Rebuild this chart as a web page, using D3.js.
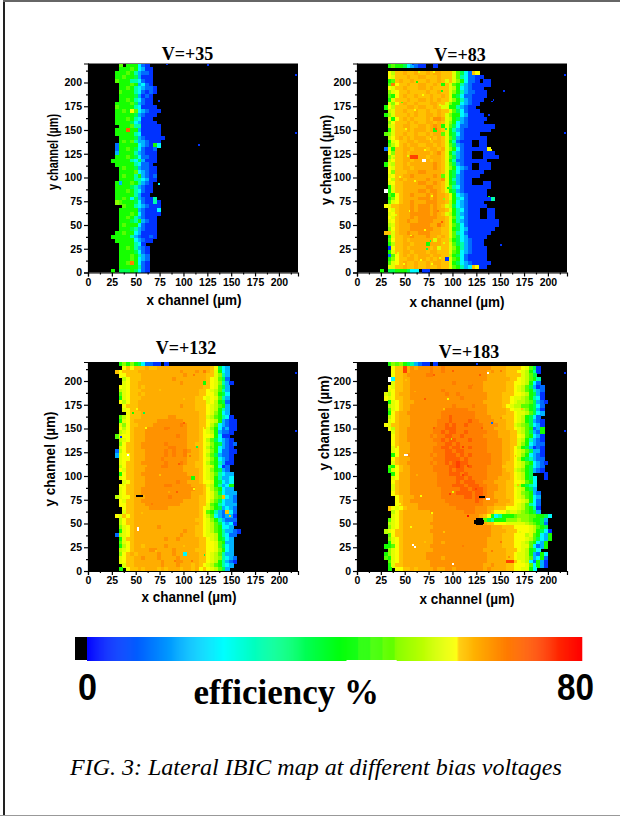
<!DOCTYPE html>
<html>
<head>
<meta charset="utf-8">
<script src="https://cdn.jsdelivr.net/npm/d3@7"></script>
<style>
  html, body { margin: 0; padding: 0; background: #fff; }
  svg { display: block; }
  .tick-label { font: bold 10.5px "Liberation Sans", Arial, sans-serif; }
  .axis-label { font: bold 14px "Liberation Sans", Arial, sans-serif; }
  .title { font: bold 18px "Liberation Serif", "Times New Roman", serif; text-anchor: middle; }
</style>
</head>
<body>
<svg id="d" width="620" height="816"></svg>
<script>
  // one letter per 4x4 um cell, rows run from y=216 down to y=0, first letter is x=24
  // '.' no signal, 'W' saturated (white), a..s low to high efficiency
  const levelLetters = 'abcdefghijklmnopqrs'.split('');
  const levelValues = [6, 11, 17, 23, 30, 37, 44, 48, 51, 55, 58, 60, 61.5, 63.5, 66, 68, 71, 74, 79];

  const rows35 = [
    '..h.g ggdba', '..ggg hgdca a', '.gggh gecbb a', '.gghg gfcaa a', '.hggg eedba a',
    '..ggg hgcdb a', '..ggh gedcb ba', '..hgg gedba ba', '..ggg gfcab a', '..ggh gedba a',
    '.gggg hfcba a', '.hggg gedaa aa', '.gghg lhdcb aaa', '.gggg gfcba aa', '.gggh gedaa a',
    '.gggg fdcaa aa', '..ggg heeaa aaa', '.gggq ggcaa aaa', '.gggg gedaa aaa', '..ggg gfcba aaaa',
    '..ghg heccb aaa', '.bggg ggdcb agd', '.bggh gfdba ab', '.cggg gecba aa', '.gggh gfdbb aa',
    'ggggg edfca aa', '.gggg gedbb a', '..ghg gfcbb aa', '..ggg ghdcb aa', '..ghg gegcb ab',
    '..ggg geedc aa', '.gcgg hgecb a', '.gggg fecba a', '.gggh gedba a', '.gggg gecaa',
    '.gghg dfcba ae', '.ihgg gfdba aea', '...hg gedcb aaa', '..ggg ggcba aad', '..ggg hgdba aaa',
    '..ggh gecba aa', '..ggg fegcb aa', '..ghg ggdba aa', '..ggg fecba aa', '.gghg gdcaa aa',
    'ggggg ecbaa ba', '.gggg gdcba a', '..ggg geda', '..ggh gecba', '..ggg gfdba',
    '..ggg hgecb', '..ggg hgdcb', '..ggh pgdba', '..ggg ggeba', 'g.fff gfdba'
  ];

  const rows83 = [
    '..ghg gfdcb aa..a', '', '..ljm mnmmn mmnmnn mmmkh fdbml', '..lkm mmnmm nnmmmn mmmkh edbba a....', '..ghm nmmnm mmnmmn mkmki gdbba .aa',
    '..hpl mmnmm nnmmnm gmkhg ecbaa aaa', '..lkm mnmmm nnmnmm mmkjg dcbaa a', '..ikl mmnmm mmnmmn mmkig ecbba aa', '..hgl mnmmn mmmnmm nmkgf dbbaa aa', '..gkm mmnmm nnmnmn mmkig ecbaa a',
    '..kil mnmmn mmmnnm mkigg dcbaa', '.gljm mmnnm nnmmnm kkgge cbaa', '..jkm mnmmn mmnmmn mmkhf dbaaa', '.gikm mmnmn mmnnmn mkigg dcaaa a', '..kgl mnmnm mmnmoo nkjgf cbaaa aa',
    '..ilm mmnmn mmnnmn mkigd cbaaa a', '..jkm mnnmm nnmnon gkhfd bbaaa aaaa', '..gkm mmnmn nnmngn mkgec baaaa aaa', '.hikm mnmmn mmnmnn hkgfd baaaa', '..jlm nmnmn nnmnmn mkhfc baaaa aa',
    '..gkl mmnnm nnnmnn mkgeb aaa.. aa', '..hjl mnmnn mmnnmn mkhfc baa.. aa', '.bkgm mnnmn nnmnnm nkigd baaaa aal', '..lim mnmnn nnnmno mkgec baa.. .aaa', '..ikm mnnrr nnmnnn mkhfc baa.. .aaaa',
    '..jlm mnnmn nWnmnn mkgeb baaaa aa', '.gkjm mnmnn nnnnon mkhfc baa.. aaa', '..lkm mnnmn nnnnon mkigd cba.. aaa', '..lim mmnnn oonnnn mkgfd baaaa a', '..klm mnnon nnnnon hkgfc baaaa',
    '..ljm nmnnn nnonnn okgec baa', '..klm mnnnn oonnon mkgfc baa.. .aa', '..gkm mnnnn nnoonn mkhed baaaa aaa', '.Wgkm mnnnn oonoon mkgfc baaaa aa', '..hgl mnnon nnonon nmkgd cbaaa aa',
    '..gil mnnnn ooonon nmkge dbaaa aaae', '..hkl mnnon nnooon nmjgd cbaaa a', '.lkmm nnnon ooonon mkjfd cbaaa aa', '..lkm nnnon ooonon nmkge dbaaa ..aa', '..klm nnnoo ooonon mkjge cbaaa ..aa',
    '..lkm nnnon ooooon nmkhe dbaaa ..aa', '..klm nnonn oooonn nmkge cbaaa aaaaa', '..jkm nnnoo ooonnp nmkhf dbaaa aaaaa', '..ilm nnnoo oooonn mmkgf dcaaa aaaa', '.mmkm nnonn ooonnn mmkhe dbaaa aaa',
    '..gkm mnnon nnonnm nmkhf dcaaa aa', '..hlm mnmnn nnnnkn mmjgf dcbaa a', '..gjm mnnmn nngnnn mmkhf ecbaa a', '..alm mnmnn nnnmnk mmkig ecbaa aa', '..gkm mnnmn nnmnnm mmkhg dcbaa aa',
    '..bhl mnmnm nnnmnn mmjgf dbaaa aa', '..gil mmnnm nnmnmn makhg dbaaa aa', '..hkl mnmmn mmnmnn mmkgf dcbaa aaa', '..kkm mnmmn mmnmmn mmkhg ecdml aa', 'g.ffg ggfdd .aa'
  ];

  const rows132 = [
    '..gig igfdb baa.a', '...lm lmmmn mmnnnn nnnnn nnnnn mlfdc', '.mlmm mmnnn nnnnnn nnonn nonpn mkgdc', '..llm mmmnn nnnnnn nnnon nnnnm mkiec', '...jl mmmnn nnnnnn onnnn nnnnm lkhfb',
    '...kl mmnnn nnnnnn nnonn nnngm lkiec a', '..lkl mmnmn nnnnnn nnnnn nnnmm lkhfc', '..jkl mmmnn nnnnnn nnnnn nnmml kjhec', '..hkl mmnmn nnnnnn nnnnn nnmml ljgfd', '..gkl mmmnn nnnnnn nnnnn nmmlk lkhec',
    '..ljl mmnnn nnnnnn nnnnn nmmmk ljgfb', '...lm mmnnn nnnnnn nnonn nmmml kjhgc', '...kl mmnnn nnnnnn nnnnn nmmml kjgec', '....l mmmnn nnnnnn nnnnn nnmml kigdc', '..hjl mmmnn nnnnno onnnn nnmmk jhged a',
    '..gkl mnnnn nnoooo ooonn nnmml kjgcb aa', '..kil mmnnn nooooo oopon nnmml jhdcb aa', '..ljl mnnno oooopo oooon nnmlk igdbc aa', '..jkl mnnno oooooo oooon nnmlk jgcbb a', '.hkll mnnno oooooo opoon nnmll kgdaa',
    '..jkl mnnno oooooo oooon nnmlj hfdcb a', '..ilm mnnoo oooopo oooon nmmlk igfcb ab', '..klm mnnoo ooooop pooon nnmlj hgdcb a', '.bjlm mnnno oooopo poopo nnmlk igdbb aa', '.ckll mnnno oooopo poopn nnmlj hfcbb a',
    '..kll mnnno ooopoo oooon nnmlk igdcb a', '..klm mnnoo oooopo oopon nmmlj hgeca a', '..jlm mnnno oooppo ooonn nmmlk jgdab', '..lkm mnnno oooooo ooonn nnmlk igfcb', '..glm mnnoo oooooo oooon nnmlk jhedc c',
    '..klm mnnno oooooo ooooo gnmlk jgecc d', '...kl mnnno oooooo opoon nnmll kgfdc d', '..llm mnnno oooopp ooooo nnnmk jgecd g', '..klm mnnoo oooooo ooooo onnml jhgdc c', '..klm mnnoo oooooo ooooo nnnml kifdc cc',
    '.jkll mnnno ooooop ooooo nnmml kihmd cb', '..lkm mnnoo oooooo ooonn nnmml jhfdc cb', '..llm mnnno oooooo oonnn nnmmk hgedc cc', '...lm mnnnn ooooon nnnnn nnmlk igfcd cb', '...km mnnnn nnnnnn nnnnn nnmlh gecbm db',
    '.lkml mnnnn nnnnnn nnnnn nnmlj hdcbc ca', '..jlm mnnnn nnnnnn nnnnn nmmlk igecb bb', '..jlm mnnnn nnnnnn nnnnn nnmlk jhfdc da', '..ikl mnnnn nnonnn nnnnn nmmlk jhgdd c', '..gkl mnnnn nnnnnn nnnon nmmlk jhgec cba',
    '.bjkl mnnnn nnnnnn nnonn nmmlk kjged bb', '..gkm mnnnn nnnnon nonnn nnmml kjgfd c', '..hkl mnnnn nnnnnn nnnnn nnmml lkhgc c', '..gjl mnnmn nnnnon nnnnn nnmml lkhfd c', '..jkl mnnnn oonnnn onnnn nmmml lkigd c',
    '..ilm nmnnn nnonnn onndn nnmml kjhec c', '..klm mnnon nnonnn nonnn nnmml kjied cb', '..klm mnnnn nnnonn noonn nnmml kjgec ba', '...km mnnnn nnnonn nonnn mnmlk jhged c', '..g.l mmnmn nnmnmn nnmnn mnlml kjhfc'
  ];

  const rows183 = [
    '..gih igfec baa.a', '...lm mrnon ooopoo poooo ooooo ooonn nnmmm mlkhf a', '...lm mrnoo ooopoo poooo ooooo oonon nnmmm lkjge a', '...lm mnooo ooppoo ooooo ooooo oonnn nnmmm mkjhf', '..Wdm mnnoo oooooo ooooo ooooo oonnn nnnmm lkjhg e',
    '...km mnnoo oooooo ooopo ooooo onnnn nnmml lkjgd b', '..lkm mnnoo oooooo ooooo oopoo onnnn nnmml kjhfc ab', '..klm mnnoo oooooo poooo ooooo onnnn nnmml kjhge cb', '.kjlm nnnoo oooooo opoop ooooo oonnn nmmml lkjgf ca', '.lklm mnnoo oooooo ooooo poooo oonnn nmmlk kjige da',
    '..gkl mnnno oooooo ooooo ooooo onnnn nmmlk jjihf cba', '..jkl mnnoo oooooo ooopo ooopo oonnn nmlkj jhhgf db', '..hkl mnnoo oooooo opppp ppooo oonnn nnmlk kjigf ca', '..glm nnooo oooooo ppppp ppppo oonnn nnmml kkjhf dc', '..jlm nnnoo oooooo ppqpp ppppo ooonn nmmml kjgfd b',
    '..klm nnnoo ooooop ppqpp ppqpp oooon nnmml kjgfc ba', '.lkmm nnnoo ooooop pqpqp pqppp poooo nnmmk jihfd ca', '..ljm nnooo oooopp pqqqp ppppp pooon nnmml kjhgb cg', '...km nnooo oooopp qpqqp pqppp ppooo nnnmm kjhfc bg', '...lm nnooo ooopop pqqpp qpppp poooo nnnmm lkhgd ca',
    '...lm nnooo oooopp qpqqp ppqpp ppooo onnmm kjgec ba', '...lm nnnoo ooooop pqqpq ppppp ppooo onnmm kigdc bb', '...kl nnnoo oooopp qqpqq ppqpp ppooo onnml jgfca ba', '...kl nnnoo oooopp pqqpq qpppp ppooo onnml kjhfc ca', '...gl nnooo ooopop pqqqp qpqpp pppoo onnml kigdc ba',
    '...lm nnnoo oooopp pqqqq pqppp pppoo onnml jgfec bb', '...km nnooo ooopop pqpqr qqppp pppoo onmml kjhgd cba', '..hgl mnnoo oooopp ppqqr qpqpp ppooo ommml kjgfd cb', '..gkl mnnoo oooopp ppqpq qpppp ppooo onmmk jigfc ba', '...gl nnnoo ooooop ppqqq pqppp ppooo onnml kjgf. ..a',
    '...kl nnnoo ooooop ppppq qpqpp ppooo nnnml kjgfd ..a', '...lm nnnoo ooooop ppppq pqqqp pooon nnmml lkhgd', '...km nnnoo ooooop pppqq qpqqq ppooo nnmmk jgfed', '...km nnnoo oooooo ppppp qqpqq qpooo nnmml kjgfc', '...lm nnnoo oooooo ppppq qqqpq qpoon nnmml kihgc b',
    '....l mnnno oooooo ppppp pqqpq qpoon nnmml kjhgd c', '....l mnnoo oooooo opppp ppppq poooo nnnml lkjgd b', '....l mnnnn oooooo ooppp ppppp pooon nnmml kjhed b', '..mlk lmnnn oooooo oooop ppppo oonnm mmlll kjhge a', '...jl mnnnn nnnooo ooooo opppo oonml lljkk jihgf c',
    '...kl mnnnn nnnnoo ooooo ooooo nmlgd egggh iiihh ggfd', '..hkl mnnnn nnnnoo ooooo oooo. .hfeg ggiii jiihg gfc', '..jkl mnnnn nnnooo ooooo oooo. .nmml llkkk kkjih gfb', '..ikl mnnnn nnnnoo ooooo ooooo ooonn nmmml lllkj hgf', '.jklm mnnnn nnnooo ooooo ooooo ooonn nnmmm lllkj gfda',
    '..hlm mnnnn nnnnoo ooooo ooooo ooonn nmmml lljkh gdcg', '..ikl mnnnn nnnnoo ooooo ooooo oonnn nmmml llkjh fdcg', '..gkl mnnnn nnnnoo noooo ooooo oonnn nmmml lkjhg dcg', '.gghl mnnnn nnnooo ooooo ooooo oonnn nmmml lkkhd bcg', '..ikl mnnnn nnnnoo ooooo ooooo onnnn nnmmm lkjgf d',
    '.gikl mnnnn nnoooo ooooo ooooo oonnn nnmml kkjgc bgd', '.hgkl mnnnn nnoooo noooo ooooo oonnn nnmml kkjhc dgb', '..hkl mnnnn nnnooo ooooo ooooo oonnn nnrrm lkjdb gca', '..gkm mnnnn nnnooo ooooo ooooo onnon nnmml llkhd gca', '..g.l lmmnm nnnnon noono ooooo ononn nnmml lkkgd'
  ];

  // isolated 2x2 um pixels: x, y, letter
  const specks35 = [[82, 218, 'a'], [125, 217, 'a'], [217, 207, 'a'], [217, 146, 'a'], [115, 133, 'a'], [73, 180, 'a'], [73, 92, 'd']];
  const specks83 = [
    [217, 207, 'a'], [217, 146, 'a'], [153, 190, 'a'], [140, 179, 'a'], [142, 181, 'a'], [137, 165, 'a'], [150, 28, 'a'], [137, 79, 'g'], [139, 128, 'l'], [58, 218, 'a'],
    [46, 178, 'h'], [88, 190, 'g'], [92, 150, 'f'], [82, 150, 'q'], [62, 200, 'g'], [86, 175, 'k'], [70, 128, 'l'], [52, 122, 'k'], [76, 32, 'f'], [72, 24, 'f'],
    [54, 64, 'l'], [88, 52, 'q'], [90, 30, 'k'], [80, 210, 'l'], [64, 210, 'k'], [60, 95, 'l'], [78, 80, 'l'], [84, 64, 'p'], [70, 44, 'l'], [94, 88, 'g'],
    [90, 76, 'i'], [56, 38, 'l'], [50, 150, 'l'], [60, 170, 'l'], [68, 186, 'l'], [76, 140, 'l'], [44, 100, 'l'], [40, 60, 'k'], [38, 120, 'j'], [42, 20, 'k'],
    [48, 8, 'l'], [66, 12, 'l'], [78, 8, 'l'], [86, 14, 'k']
  ];
  const specks132 = [
    [217, 207, 'a'], [217, 146, 'a'], [41, 121, 'W'], [51, 42, 'W'], [51, 44, 'W'], [50, 78, '.'], [52, 78, '.'], [54, 78, '.'], [56, 78, '.'], [46, 165, 'g'],
    [58, 165, 'f'], [113, 130, 'f'], [34, 140, 'a'], [121, 16, 'f'], [148, 57, 'm'], [84, 82, 'n'], [110, 85, 'l'],
    [60, 150, 'l'], [50, 170, 'l'], [74, 190, 'm'], [100, 180, 'm'], [110, 205, 'p'], [100, 155, 'q'], [84, 150, 'p'], [94, 112, 'q'], [106, 120, 'p'],
    [92, 82, 'q'], [74, 100, 'm'], [66, 70, 'p'], [56, 60, 'm'], [42, 30, 'l'], [70, 20, 'm'], [100, 25, 'm'], [116, 60, 'm'], [120, 40, 'l'], [128, 110, 'k'],
    [130, 130, 'i'], [122, 150, 'm'], [60, 110, 'n'], [36, 90, 'k'], [38, 60, 'k'], [44, 10, 'm'], [90, 10, 'p'], [108, 10, 'p']
  ];
  const specks183 = [
    [217, 207, 'a'], [217, 146, 'a'], [136, 207, 'W'], [49, 121, 'W'], [51, 121, 'W'], [60, 24, 'W'], [58, 26, 'W'], [100, 6, 'W'], [135, 75, 'W'], [137, 75, 'W'],
    [128, 77, '.'], [130, 77, '.'], [132, 77, '.'], [123, 52, '.'], [125, 52, '.'], [127, 52, '.'], [129, 52, '.'], [131, 52, '.'], [123, 50, '.'], [125, 50, '.'], [127, 50, '.'], [129, 50, '.'], [131, 50, '.'],
    [115, 57, 's'], [140, 155, 'b'], [98, 138, 'j'], [100, 82, 'k'], [125, 217, 'a'],
    [70, 180, 'q'], [90, 170, 'm'], [94, 180, 'l'], [80, 150, 'q'], [96, 150, 'q'], [130, 150, 'q'], [150, 160, 'o'], [110, 100, 'r'], [66, 78, 'l'], [78, 60, 'l'],
    [96, 80, 'r'], [110, 130, 'r'], [115, 110, 'r'], [124, 85, 'r'], [50, 200, 'm'], [60, 188, 'n'], [120, 195, 'p'], [44, 70, 'l'], [56, 45, 'l'], [70, 30, 'm'],
    [90, 40, 'm'], [110, 25, 'p'], [140, 20, 'p'], [150, 30, 'p'], [158, 14, 'o'], [170, 40, 'k'], [172, 170, 'm'], [165, 120, 'm'], [168, 90, 'm'], [150, 210, 'p'],
    [128, 205, 'q'], [100, 210, 'q'], [80, 205, 'q'], [62, 100, 'n'], [40, 130, 'm']
  ];

  const xTicks = [0, 25, 50, 75, 100, 125, 150, 175, 200];
  const yTicks = [0, 25, 50, 75, 100, 125, 150, 175, 200];
  const minorTicks = [12.5, 37.5, 62.5, 87.5, 112.5, 137.5, 162.5, 187.5, 212.5];

  const barLabels = ['0', '80'];

  const cellSize = 4;
  const firstX = 24;
  const topRow = 216;
  const axisMax = 220;

  const color = d3.scaleLinear()
    .domain([1.9, 23.4, 42.8, 50.8, 60.4, 60.5, 80])
    .range(['#0000ff', '#00ffff', '#00ff00', '#88ff00', '#ffff00', '#ffcc00', '#ff0000']);

  const levelValue = d3.scaleOrdinal().domain(levelLetters).range(levelValues);
  const cellColor = c => c === 'W' ? '#fff' : c === '.' ? '#000' : color(levelValue(c));

  const svg = d3.select('#d');

  // page frame
  svg.append('rect').attr('x', 3).attr('y', 0).attr('width', 2).attr('height', 816).attr('fill', '#222');
  svg.append('rect').attr('x', 3).attr('y', 0).attr('width', 617).attr('height', 2).attr('fill', '#666');
  svg.append('rect').attr('x', 0).attr('y', 815).attr('width', 620).attr('height', 1).attr('fill', '#999');

  const parseRows = rows => rows.flatMap((row, i) =>
    row.replace(/ /g, '').split('')
      .map((c, j) => ({ x: firstX + j * cellSize, y: topRow - i * cellSize, c }))
      .filter(d => d.c !== '.'));

  const renderPanel = p => {
    const x = d3.scaleLinear().domain([0, axisMax]).range([p.left, p.left + 210]);
    const y = d3.scaleLinear().domain([0, axisMax]).range([p.top + 209, p.top]);
    const g = svg.append('g');

    g.append('rect')
      .attr('x', p.left).attr('y', p.top)
      .attr('width', 210).attr('height', 209)
      .attr('fill', '#000');

    const map = g.append('g')
      .attr('filter', 'url(#soft)')
      .attr('shape-rendering', 'crispEdges');

    map.selectAll('rect.cell').data(parseRows(p.rows))
      .enter().append('rect')
        .attr('class', 'cell')
        .attr('x', d => x(d.x))
        .attr('y', d => y(d.y + cellSize))
        .attr('width', d => x(d.x + cellSize) - x(d.x) + 0.5)
        .attr('height', d => y(d.y) - y(d.y + cellSize) + 0.5)
        .attr('fill', d => cellColor(d.c));

    map.selectAll('rect.speck').data(p.specks)
      .enter().append('rect')
        .attr('class', 'speck')
        .attr('x', d => x(d[0]))
        .attr('y', d => y(d[1] + 2))
        .attr('width', d => x(d[0] + 2) - x(d[0]))
        .attr('height', d => y(d[1]) - y(d[1] + 2))
        .attr('fill', d => cellColor(d[2]));

    const xAxisG = g.append('g')
      .attr('transform', `translate(0,${p.top + 209})`)
      .call(d3.axisBottom(x).tickValues(xTicks).tickSize(4).tickPadding(2));
    const yAxisG = g.append('g')
      .attr('transform', `translate(${p.left},0)`)
      .call(d3.axisLeft(y).tickValues(yTicks).tickSize(4).tickPadding(2));

    g.append('g')
      .attr('transform', `translate(0,${p.top + 209})`)
      .call(d3.axisBottom(x).tickValues(minorTicks).tickSize(2).tickFormat(''))
      .select('.domain').remove();
    g.append('g')
      .attr('transform', `translate(${p.left},0)`)
      .call(d3.axisLeft(y).tickValues(minorTicks).tickSize(2).tickFormat(''))
      .select('.domain').remove();

    g.selectAll('.domain').attr('stroke-width', 1.2);
    g.selectAll('.tick line').attr('stroke-width', 1.2);
    xAxisG.selectAll('text').attr('class', 'tick-label');
    yAxisG.selectAll('text').attr('class', 'tick-label');
    xAxisG.attr('font-size', null).attr('font-family', null);
    yAxisG.attr('font-size', null).attr('font-family', null);

    g.append('text')
      .attr('class', 'title')
      .attr('x', p.titleX).attr('y', p.titleY)
      .text(p.title);

    g.append('text')
      .attr('class', 'axis-label')
      .attr('text-anchor', 'middle')
      .attr('x', p.xLabelX).attr('y', p.xLabelY)
      .attr('textLength', 95).attr('lengthAdjust', 'spacingAndGlyphs')
      .text('x channel (\u00b5m)');

    g.append('text')
      .attr('class', 'axis-label')
      .attr('text-anchor', 'middle')
      .attr('transform', `translate(${p.yLabelX},${p.yLabelY}) rotate(-90)`)
      .attr('textLength', p.yLabelLength).attr('lengthAdjust', 'spacingAndGlyphs')
      .text('y channel (\u00b5m)');
  };

  const defs = svg.append('defs');
  defs.append('filter').attr('id', 'soft')
    .attr('x', 0).attr('y', 0).attr('width', 1).attr('height', 1)
    .append('feGaussianBlur').attr('stdDeviation', 0.45);

  renderPanel({ title: 'V=+35', rows: rows35, specks: specks35, left: 88, top: 63.5, titleX: 187.5, titleY: 60, xLabelX: 194, xLabelY: 305, yLabelX: 58, yLabelY: 152, yLabelLength: 76 });
  renderPanel({ title: 'V=+83', rows: rows83, specks: specks83, left: 357, top: 63.5, titleX: 460, titleY: 60.5, xLabelX: 457, xLabelY: 307, yLabelX: 331, yLabelY: 160, yLabelLength: 90 });
  renderPanel({ title: 'V=+132', rows: rows132, specks: specks132, left: 88, top: 362, titleX: 186, titleY: 354, xLabelX: 189, xLabelY: 602, yLabelX: 55, yLabelY: 459, yLabelLength: 95 });
  renderPanel({ title: 'V=+183', rows: rows183, specks: specks183, left: 357, top: 362, titleX: 469, titleY: 358, xLabelX: 467, xLabelY: 604, yLabelX: 329, yLabelY: 423, yLabelLength: 95 });

  // colour bar
  const barX = d3.scaleLinear().domain([0, 80]).range([75, 581]);
  const stepped = v => (v > 42.8 && v < 50.8) ? 42.8 + Math.floor((v - 42.8) / 1.9) * 1.9 : v;
  const barValues = d3.range(1.9, 80, 0.16);

  svg.append('rect')
    .attr('x', barX(0)).attr('y', 637)
    .attr('width', barX(1.9) - barX(0)).attr('height', 23)
    .attr('fill', '#000');

  svg.append('g').selectAll('rect').data(barValues)
    .enter().append('rect')
      .attr('x', d => barX(d))
      .attr('y', 637)
      .attr('width', 1.4)
      .attr('height', d => (d > 42.8 && d < 50.8) ? 23 : 24)
      .attr('fill', d => color(stepped(d)));

  svg.append('text')
    .attr('x', 78).attr('y', 700)
    .attr('font-family', '"Liberation Sans", Arial, sans-serif')
    .attr('font-weight', 'bold').attr('font-size', 36)
    .attr('textLength', 19).attr('lengthAdjust', 'spacingAndGlyphs')
    .text(barLabels[0]);

  svg.append('text')
    .attr('x', 557).attr('y', 700)
    .attr('font-family', '"Liberation Sans", Arial, sans-serif')
    .attr('font-weight', 'bold').attr('font-size', 36)
    .attr('textLength', 37).attr('lengthAdjust', 'spacingAndGlyphs')
    .text(barLabels[1]);

  svg.append('text')
    .attr('x', 193.5).attr('y', 704)
    .attr('font-family', '"Liberation Serif", "Times New Roman", serif')
    .attr('font-weight', 'bold').attr('font-size', 35)
    .text('efficiency %');

  svg.append('text')
    .attr('x', 70).attr('y', 775)
    .attr('font-family', '"Liberation Serif", "Times New Roman", serif')
    .attr('font-style', 'italic').attr('font-size', 24)
    .text('FIG. 3: Lateral IBIC map at different bias voltages');
</script>
</body>
</html>
